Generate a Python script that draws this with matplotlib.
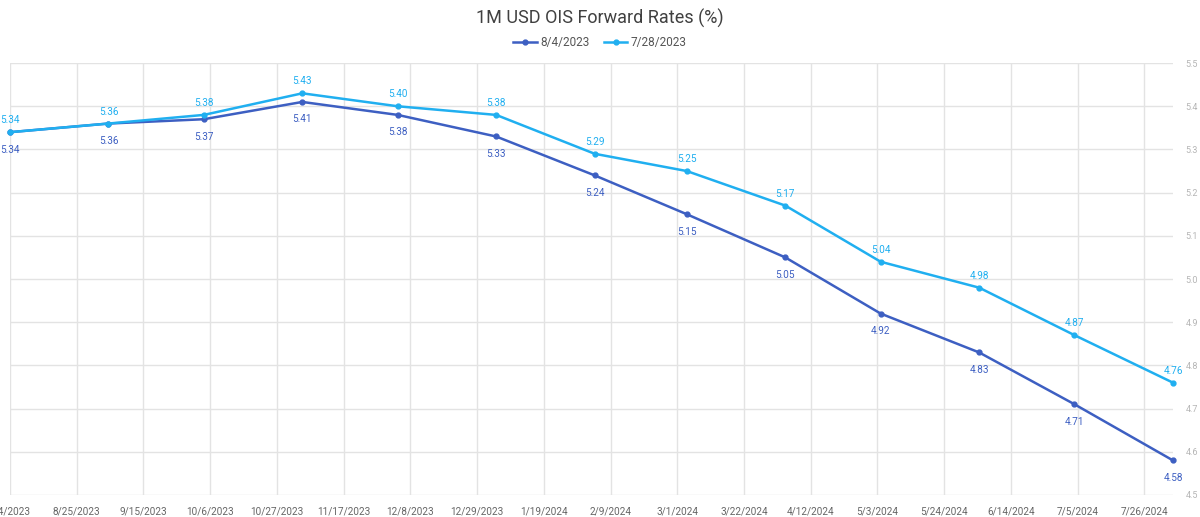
import datetime as dt
import matplotlib.pyplot as plt
import matplotlib.dates as mdates

# curve dates: monthly points starting 8/4/2023
dates = [dt.date(2023, 8, 4), dt.date(2023, 9, 4), dt.date(2023, 10, 4), dt.date(2023, 11, 4),
         dt.date(2023, 12, 4), dt.date(2024, 1, 4), dt.date(2024, 2, 4), dt.date(2024, 3, 4),
         dt.date(2024, 4, 4), dt.date(2024, 5, 4), dt.date(2024, 6, 4), dt.date(2024, 7, 4),
         dt.date(2024, 8, 4)]
rates_0804 = [5.34, 5.36, 5.37, 5.41, 5.38, 5.33, 5.24, 5.15, 5.05, 4.92, 4.83, 4.71, 4.58]
rates_0728 = [5.34, 5.36, 5.38, 5.43, 5.40, 5.38, 5.29, 5.25, 5.17, 5.04, 4.98, 4.87, 4.76]

# x ticks every 3 weeks
tick_dates = [dt.date(2023, 8, 4) + dt.timedelta(days=21 * i) for i in range(18)]
tick_labels = [f"{d.month}/{d.day}/{d.year}" for d in tick_dates]
y_ticks = [4.5, 4.6, 4.7, 4.8, 4.9, 5.0, 5.1, 5.2, 5.3, 5.4, 5.5]

plt.rcParams['font.family'] = ['Roboto', 'DejaVu Sans']

dark = '#3d5fc2'
light = '#20aff0'

fig = plt.figure(figsize=(12, 5.17), dpi=100)
ax = fig.add_axes([0.0083, 0.0426, 0.9692, 0.8354])

ax.plot(dates, rates_0804, color=dark, lw=1.8, marker='o', markersize=3.5, label='8/4/2023',
        zorder=3, clip_on=False)
ax.plot(dates, rates_0728, color=light, lw=1.8, marker='o', markersize=3.5, label='7/28/2023',
        zorder=3, clip_on=False)

for d, v in zip(dates, rates_0804):
    ax.annotate(f"{v:.2f}", (d, v), xytext=(0, -9), textcoords='offset points',
                ha='center', va='top', fontsize=7.2, color=dark)
for d, v in zip(dates, rates_0728):
    ax.annotate(f"{v:.2f}", (d, v), xytext=(0, 5), textcoords='offset points',
                ha='center', va='bottom', fontsize=7.2, color=light)

ax.set_xlim(dates[0], dates[-1])
ax.set_ylim(4.5, 5.5)
ax.set_xticks(tick_dates)
ax.set_xticklabels(tick_labels)
ax.set_yticks(y_ticks)
ax.set_yticklabels([f"{v:.1f}" for v in y_ticks])
ax.yaxis.tick_right()
ax.tick_params(axis='x', length=0, pad=8, labelsize=7.2, labelcolor='#666666')
ax.tick_params(axis='y', length=0, pad=9, labelsize=6.5, labelcolor='#b5b5b5')
ax.grid(True, color='#e3e3e3', lw=1)
ax.set_axisbelow(True)
for s in ax.spines.values():
    s.set_visible(False)

fig.text(0.5, 0.965, '1M USD OIS Forward Rates (%)', ha='center', va='center',
         fontsize=13, color='#404040')
fig.legend(loc='center', bbox_to_anchor=(0.5, 0.917), ncol=2, frameon=False,
           fontsize=8.5, labelcolor='#555555', handlelength=2, handletextpad=0.3,
           columnspacing=1.2)

fig.savefig('out.png', dpi=100)
